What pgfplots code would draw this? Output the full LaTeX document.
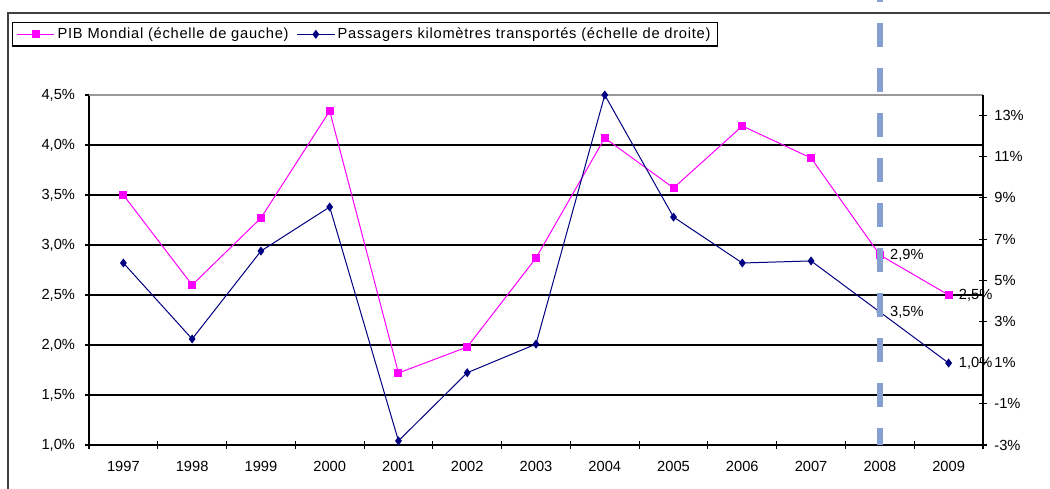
\documentclass[border=0pt]{standalone}
\usepackage{pgfplots}
\pgfplotsset{compat=1.18}
\usepackage{fontspec}
\setmainfont{Liberation Sans}
\definecolor{pib}{RGB}{255,0,255}
\definecolor{pax}{RGB}{0,0,128}
\definecolor{dashc}{RGB}{135,160,210}
\newcommand{\tfont}{\fontsize{11}{13}\selectfont}
\begin{document}
\begin{tikzpicture}
\useasboundingbox (0,0) rectangle (787.5pt,366.75pt);
\draw[line width=1.1pt, black!75] (6pt,-2pt) -- (6pt,357pt) -- (790pt,357pt);
\begin{axis}[
  at={(66.75pt,33pt)}, anchor=south west,
  scale only axis, width=670.5pt, height=262.5pt,
  xmin=-0.5, xmax=12.5, ymin=1, ymax=4.5,
  axis x line*=bottom, axis y line*=left,
  xtick={-0.5,0.5,...,12.5}, x tick label as interval,
  xticklabels={1997,1998,1999,2000,2001,2002,2003,2004,2005,2006,2007,2008,2009},
  ytick={1,1.5,...,4.5},
  yticklabels={{1,0\%},{1,5\%},{2,0\%},{2,5\%},{3,0\%},{3,5\%},{4,0\%},{4,5\%}},
  ymajorgrids, grid style={black, line width=0.8pt},
  tick align=center, major tick length=6pt,
  tick style={black, line width=0.8pt},
  axis line style={black, line width=0.8pt, -},
  ticklabel style={font=\tfont},
  yticklabel style={xshift=-4pt},
  xticklabel style={yshift=-6pt},
  /pgf/number format/assume math mode=true,
  clip=false,
]
\draw[gray!80, line width=0.8pt] (rel axis cs:0,1) -- (rel axis cs:1,1);
\addplot[pib, line width=0.75pt, mark=square*, mark size=2.6pt] coordinates {
 (0,3.50) (1,2.60) (2,3.27) (3,4.34) (4,1.72) (5,1.98) (6,2.87)
 (7,4.07) (8,3.57) (9,4.19) (10,3.87) (11,2.90) (12,2.50)};
\node[anchor=west, inner sep=0pt, xshift=7.5pt, font=\tfont] at (axis cs:11,2.90) {2,9\%};
\node[anchor=west, inner sep=0pt, xshift=7.5pt, font=\tfont] at (axis cs:12,2.50) {2,5\%};
\end{axis}
\begin{axis}[
  at={(66.75pt,33pt)}, anchor=south west,
  scale only axis, width=670.5pt, height=262.5pt,
  xmin=-0.5, xmax=12.5, ymin=-3, ymax=14,
  axis x line=none, axis y line*=right,
  ytick={-3,-1,...,13},
  yticklabels={{-3\%},{-1\%},{1\%},{3\%},{5\%},{7\%},{9\%},{11\%},{13\%}},
  tick align=center, major tick length=6pt,
  tick style={black, line width=0.8pt},
  axis line style={black, line width=0.8pt, -},
  ticklabel style={font=\tfont},
  yticklabel style={xshift=2pt},
  /pgf/number format/assume math mode=true,
  clip=false,
  legend columns=2,
  legend style={at={(-0.0861,1.2086)}, anchor=north west, draw=black, line width=0.9pt,
    fill=white, font=\fontsize{11}{13}\selectfont\addfontfeature{LetterSpace=5},
    inner xsep=3pt, inner ysep=2pt,
    /tikz/every even column/.append style={column sep=4pt}},
  legend image code/.code={\draw[mark repeat=2,mark phase=2,#1] plot coordinates {(0pt,0pt)(14pt,0pt)(28pt,0pt)};},
]
\addlegendimage{pib, line width=0.75pt, mark=square*, mark size=2.6pt}
\addlegendentry{PIB Mondial (échelle de gauche)}
\addplot[pax, line width=0.75pt, mark=diamond*, mark size=2.8pt] coordinates {
 (0,5.84) (1,2.15) (2,6.42) (3,8.56) (4,-2.80) (5,0.51) (6,1.90)
 (7,14.0) (8,8.07) (9,5.84) (10,5.94) (11,3.46) (12,0.98)};
\addlegendentry{Passagers kilomètres transportés (échelle de droite)}
\node[anchor=west, inner sep=0pt, xshift=7.5pt, font=\tfont] at (axis cs:11,3.46) {3,5\%};
\node[anchor=west, inner sep=0pt, xshift=7.5pt, font=\tfont] at (axis cs:12,0.98) {1,0\%};
\end{axis}
\draw[dashc, line width=4.8pt, dash pattern=on 18pt off 15.75pt, dash phase=16.5pt]
  (659.88pt,366.75pt) -- (659.88pt,33pt);
\end{tikzpicture}
\end{document}
